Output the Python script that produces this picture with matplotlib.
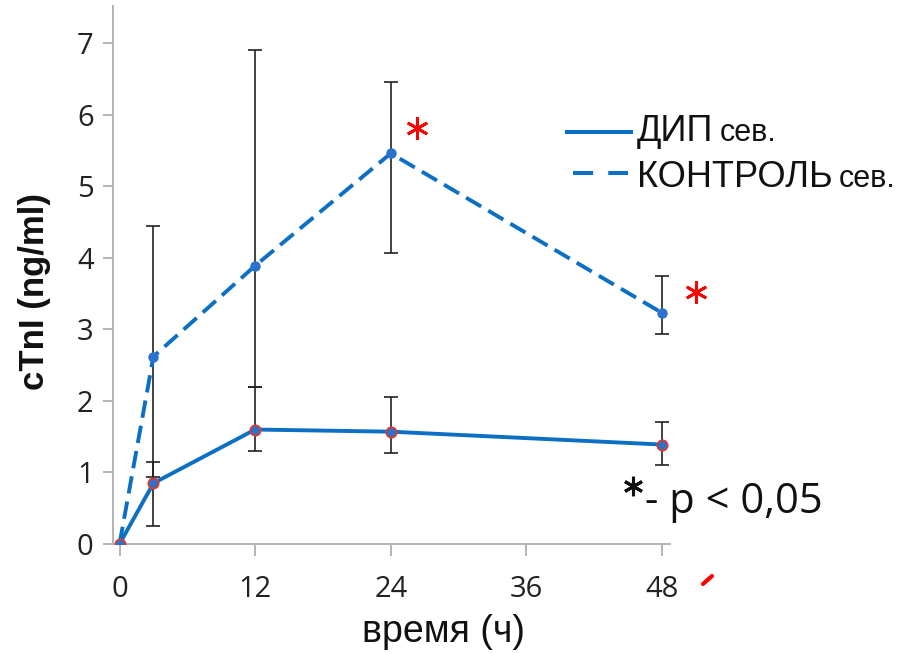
import matplotlib
matplotlib.use("Agg")
import matplotlib.pyplot as plt
from matplotlib.lines import Line2D
import numpy as np

# ---- data ----
hours = [0, 3, 12, 24, 48]
dip_mean = [0, 0.85, 1.60, 1.57, 1.39]
dip_upper = [0, 1.14, 2.19, 2.06, 1.70]
dip_lower = [0, 0.25, 1.30, 1.27, 1.10]
ctrl_mean = [0, 2.62, 3.89, 5.46, 3.23]
ctrl_upper = [0, 4.45, 6.90, 6.46, 3.74]
ctrl_lower = [0, 0.93, 2.19, 4.07, 2.94]
x_ticks = [0, 12, 24, 36, 48]
y_ticks = [0, 1, 2, 3, 4, 5, 6, 7]
sig_points = [(26.3, 5.82), (51.0, 3.52)]  # red asterisks (hours, value)

W, H = 919, 653
fig = plt.figure(figsize=(W / 100, H / 100), dpi=100)

def fx(px):
    return px / W

def fy(py):
    return 1 - py / H

left, right, bottom, top = 113.3, 670, 544, 6
ax = fig.add_axes([fx(left), fy(bottom), (right - left) / W, (bottom - top) / H])

blue = "#0B6FC4"
marker_blue = "#2A72CC"
red_edge = "#D0403A"
err_col = "#222222"

x = np.array(hours)
dm = np.array(dip_mean); du = np.array(dip_upper); dl = np.array(dip_lower)
cm = np.array(ctrl_mean); cu = np.array(ctrl_upper); cl = np.array(ctrl_lower)

# error bars (skip the zero point)
ax.errorbar(x[1:], cm[1:], yerr=[cm[1:] - cl[1:], cu[1:] - cm[1:]], fmt="none",
            ecolor=err_col, elinewidth=1.2, capsize=5, capthick=1.2, zorder=1)
ax.errorbar(x[1:], dm[1:], yerr=[dm[1:] - dl[1:], du[1:] - dm[1:]], fmt="none",
            ecolor=err_col, elinewidth=1.2, capsize=5, capthick=1.2, zorder=1)

ax.plot(x, cm, color=blue, lw=2.8, linestyle=(0, (4.5, 2.1)), zorder=2)
ax.plot(x, dm, color=blue, lw=2.8, linestyle="-", zorder=2)
ax.plot(x, cm, linestyle="none", marker="o", ms=6.5, mfc=marker_blue, mec=marker_blue, zorder=3)
ax.plot(x, dm, linestyle="none", marker="o", ms=7.3, mfc=marker_blue, mec=red_edge, mew=1.4, zorder=3)

for sx, sy in sig_points:
    ax.plot([sx], [sy], linestyle="none", marker=(6, 2, 0), ms=16, mew=2.0,
            color="#FF0000", clip_on=False, zorder=4)

ax.set_xlim(-0.55, 48.7)
ax.set_ylim(0, 7.52)
ax.set_xticks(x_ticks)
ax.set_yticks(y_ticks)
ax.set_xticklabels([str(v) for v in x_ticks])
ax.set_yticklabels([str(v) for v in y_ticks])

for s in ["top", "right"]:
    ax.spines[s].set_visible(False)
for s in ["left", "bottom"]:
    ax.spines[s].set_color("#B4B4B4")
    ax.spines[s].set_linewidth(1.4)

ax.tick_params(axis="y", direction="out", length=7.2, width=1.4, color="#B4B4B4",
               pad=7, labelsize=21, labelcolor="#222222")
ax.tick_params(axis="x", direction="out", length=8.6, width=1.4, color="#B4B4B4",
               pad=14, labelsize=21, labelcolor="#222222")
for lab in ax.get_xticklabels() + ax.get_yticklabels():
    lab.set_fontfamily("Open Sans")

# axis titles
fig.text(fx(443), fy(632), "время (ч)", ha="center", va="center", fontsize=27,
         family="Liberation Sans", color="#111111")
fig.text(fx(35), fy(291), "cTnI (ng/ml)", ha="center", va="center", fontsize=25,
         family="Liberation Sans", fontweight="bold", rotation=90, color="#111111")

# legend (manual)
fig.add_artist(Line2D([fx(565), fx(633)], [fy(131.7), fy(131.7)], transform=fig.transFigure,
                      color=blue, lw=2.9, solid_capstyle="butt"))
fig.add_artist(Line2D([fx(573), fx(628)], [fy(173), fy(173)], transform=fig.transFigure,
                      color=blue, lw=2.9, linestyle=(0, (5, 3.75)), dash_capstyle="butt"))

t1 = fig.text(fx(637), fy(141), "ДИП", ha="left", va="baseline", fontsize=26,
              family="Liberation Sans", color="#111111")
t2 = fig.text(fx(637), fy(187), "КОНТРОЛЬ", ha="left", va="baseline", fontsize=26,
              family="Liberation Sans", color="#111111")
fig.canvas.draw()
r = fig.canvas.get_renderer()
for t, yb in [(t1, 141), (t2, 187)]:
    bb = t.get_window_extent(r)
    fig.text(bb.x1 / W + 6 / W, fy(yb), "сев.", ha="left", va="baseline", fontsize=22,
             family="Liberation Sans", color="#111111")

# significance note
fig.add_artist(Line2D([fx(632.5)], [fy(485.5)], transform=fig.transFigure, linestyle="none",
                      marker=(6, 2, 0), ms=14, mew=2.2, color="#111111"))
fig.text(fx(645), fy(513), "- p < 0,05", ha="left", va="baseline", fontsize=30,
         family="Open Sans", color="#111111")

# small red stroke
fig.add_artist(Line2D([fx(703), fx(712)], [fy(584), fy(576)], transform=fig.transFigure,
                      color="#FF0000", lw=3, solid_capstyle="round"))

fig.savefig("out.png", dpi=100)
